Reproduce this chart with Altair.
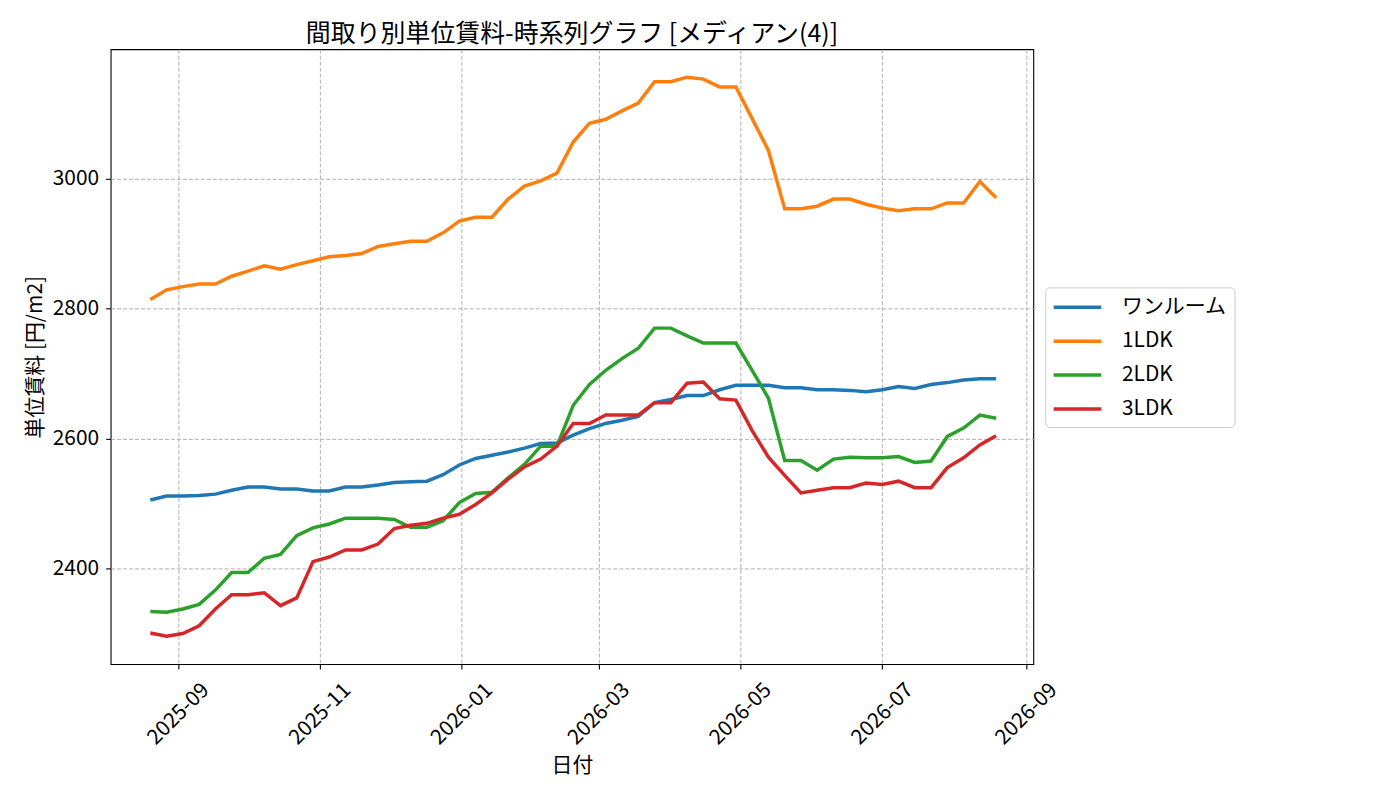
import altair as alt
import pandas as pd

dates = pd.date_range("2025-08-20", periods=53, freq="7D")

series_names = ["ワンルーム", "1LDK", "2LDK", "3LDK"]
series_colors = ["#1f77b4", "#ff7f0e", "#2ca02c", "#d62728"]

one_room = [2505, 2511, 2511, 2512, 2514, 2520, 2525, 2525, 2522, 2522,
            2519, 2519, 2525, 2525, 2528, 2532, 2533, 2534, 2544, 2559,
            2569, 2574, 2579, 2585, 2592, 2593, 2605, 2615, 2623, 2628,
            2634, 2655, 2660, 2666, 2666, 2675, 2682, 2682, 2682, 2678,
            2678, 2675, 2675, 2674, 2672, 2675, 2680, 2677, 2683, 2686,
            2690, 2692, 2692]

ldk1 = [2814, 2829, 2834, 2838, 2838, 2850, 2858, 2866, 2861, 2868,
        2874, 2880, 2882, 2885, 2896, 2900, 2904, 2904, 2917, 2935,
        2941, 2941, 2969, 2989, 2997, 3009, 3057, 3086, 3092, 3105,
        3117, 3150, 3150, 3157, 3154, 3142, 3142, 3093, 3044, 2954,
        2954, 2958, 2969, 2969, 2961, 2955, 2951, 2954, 2954, 2963,
        2963, 2996, 2971]

ldk2 = [2333, 2332, 2337, 2344, 2366, 2393, 2393, 2415, 2421, 2450,
        2462, 2468, 2477, 2477, 2477, 2475, 2463, 2463, 2473, 2501,
        2515, 2517, 2539, 2560, 2588, 2588, 2651, 2683, 2705, 2723,
        2739, 2770, 2770, 2758, 2747, 2747, 2747, 2705, 2662, 2566,
        2566, 2551, 2568, 2571, 2570, 2570, 2572, 2563, 2565, 2603,
        2616, 2636, 2631]

ldk3 = [2300, 2295, 2299, 2311, 2337, 2359, 2359, 2362, 2342, 2354,
        2410, 2417, 2428, 2428, 2437, 2461, 2466, 2469, 2477, 2483,
        2498, 2516, 2537, 2556, 2568, 2588, 2623, 2623, 2636, 2636,
        2636, 2655, 2655, 2685, 2687, 2661, 2659, 2612, 2571, 2543,
        2516, 2520, 2524, 2524, 2531, 2529, 2534, 2524, 2524, 2555,
        2570, 2590, 2604]

y_ticks = [2400, 2600, 2800, 3000]
x_tick_months = [(2025, 9), (2025, 11), (2026, 1), (2026, 3), (2026, 5), (2026, 7), (2026, 9)]

rows = []
for name, values in zip(series_names, [one_room, ldk1, ldk2, ldk3]):
    for d, v in zip(dates, values):
        rows.append({"日付": d, "間取り": name, "単位賃料": v})
df = pd.DataFrame(rows)

FONT = "Noto Sans CJK JP"

x_axis = alt.Axis(
    values=[alt.DateTime(year=y, month=m, date=1) for y, m in x_tick_months],
    format="%Y-%m",
    labelAngle=315,
    labelAlign="center",
    labelBaseline="middle",
    labelPadding=45,
    labelFlush=False,
    labelOverlap=False,
    titleY=102,
    titleBaseline="middle",
)
y_axis = alt.Axis(values=y_ticks, format="d", labelPadding=7, titlePadding=7)

chart = alt.Chart(df).mark_line(strokeWidth=3.5).encode(
    x=alt.X("日付:T", title="日付", axis=x_axis,
            scale=alt.Scale(domain=[alt.DateTime(year=2025, month=8, date=2, hours=22),
                                    alt.DateTime(year=2026, month=9, date=4)])),
    y=alt.Y("単位賃料:Q", title="単位賃料 [円/m2]", axis=y_axis,
            scale=alt.Scale(domain=[2252, 3200], zero=False, nice=False)),
    color=alt.Color("間取り:N",
                    sort=series_names,
                    scale=alt.Scale(domain=series_names, range=series_colors),
                    legend=alt.Legend(
                        title=None, orient="none", legendX=938, legendY=239,
                        symbolType="M-1.1,0H3.45", symbolSize=441,
                        symbolStrokeWidth=3.5, labelOffset=44.5,
                        rowPadding=11, padding=7.5,
                        strokeColor="#cccccc", cornerRadius=4, fillColor="white",
                    )),
).properties(
    width=926,
    height=617,
    title=alt.TitleParams("間取り別単位賃料-時系列グラフ [メディアン(4)]",
                          fontSize=25, fontWeight="normal", font=FONT,
                          color="black", anchor="middle", offset=2),
    autosize=alt.AutoSizeParams(type="none"),
    padding={"left": 103, "top": 40, "right": 360, "bottom": 130},
).configure_view(
    stroke="black", strokeWidth=1.1
).configure_axis(
    labelFont=FONT, titleFont=FONT, labelFontSize=21, titleFontSize=21,
    labelColor="black", titleColor="black", titleFontWeight="normal",
    domain=False, tickColor="black", tickSize=5, tickWidth=1.1,
    grid=True, gridColor="#b0b0b0", gridDash=[4, 2], gridWidth=1,
).configure_legend(
    labelFont=FONT, labelFontSize=21, labelColor="black",
)

chart.save("out.html", embed_options={"renderer": "svg", "actions": False})
